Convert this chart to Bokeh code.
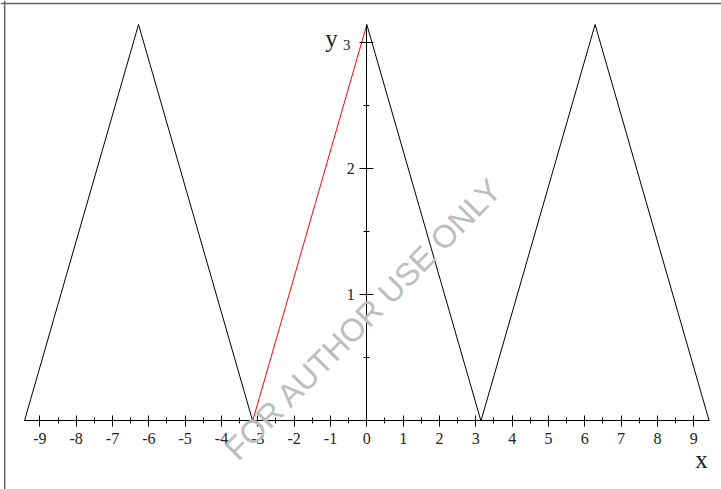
import math
from bokeh.plotting import figure
from bokeh.models import (LinearAxis, FixedTicker, Label, Span, Range1d)
from bokeh.embed import file_html
from bokeh.resources import INLINE

PI = math.pi

# Triangle wave y = pi - |x| (period 2*pi), drawn in black outside [-pi, 0]
left_x = [-3 * PI, -2 * PI, -PI]
left_y = [0.0, PI, 0.0]
right_x = [0.0, PI, 2 * PI, 3 * PI]
right_y = [PI, 0.0, PI, 0.0]

# Highlighted segment on [-pi, 0]
seg_x = [-PI, 0.0]
seg_y = [0.0, PI]

# Tick positions
x_major = list(range(-9, 10))
x_minor = [k + 0.5 for k in range(-9, 9)]
y_major = [1, 2, 3]
y_minor = [0.5, 1.5, 2.5]

W, H = 721, 489
p = figure(width=W, height=H, output_backend="svg", toolbar_location=None,
           x_range=Range1d(-10.083, 9.763), y_range=Range1d(-0.543, 3.332),
           x_axis_type=None, y_axis_type=None,
           min_border=0, min_border_left=0, min_border_right=0,
           min_border_top=0, min_border_bottom=0)
p.outline_line_color = None
p.xgrid.visible = False
p.ygrid.visible = False
p.background_fill_color = "white"
p.border_fill_color = "white"

serif = "Liberation Serif"

# Plain hyphen-minus labels; the top y label is set smaller below
x_labels = {t: str(t) for t in x_major}
y_labels = {t: str(t) for t in y_major}
top_tick = y_major[-1]
y_labels[top_tick] = ""

xaxis = LinearAxis(fixed_location=0,
                   ticker=FixedTicker(ticks=x_major, minor_ticks=x_minor),
                   bounds=(-3 * PI, 3 * PI),
                   axis_line_color="black", axis_line_width=1,
                   major_tick_in=5, major_tick_out=6,
                   minor_tick_in=3, minor_tick_out=3,
                   major_tick_line_color="black", minor_tick_line_color="black",
                   major_label_overrides=x_labels,
                   major_label_text_font=serif, major_label_text_font_size="16px",
                   major_label_text_color="#222222", major_label_standoff=6)
p.add_layout(xaxis, "below")

yaxis = LinearAxis(fixed_location=0,
                   ticker=FixedTicker(ticks=y_major, minor_ticks=y_minor),
                   bounds=(0, PI),
                   axis_line_color="black", axis_line_width=1,
                   major_tick_in=7, major_tick_out=7,
                   minor_tick_in=3, minor_tick_out=3,
                   major_tick_line_color="black", minor_tick_line_color="black",
                   major_label_overrides=y_labels,
                   major_label_text_font=serif, major_label_text_font_size="16px",
                   major_label_text_color="#222222", major_label_standoff=5,
                   major_label_orientation="horizontal")
p.add_layout(yaxis, "left")

p.add_layout(Label(x=0, y=top_tick, text=str(top_tick), text_font=serif,
                   text_font_size="15px", text_color="#222222",
                   x_offset=-20, y_offset=-3,
                   text_align="center", text_baseline="middle"))

p.line(left_x, left_y, line_color="black", line_width=1)
p.line(right_x, right_y, line_color="black", line_width=1)
p.line(seg_x, seg_y, line_color="red", line_width=1)

# Axis names
p.add_layout(Label(x=9.21, y=-0.305, text="x", text_font=serif,
                   text_font_size="25px", text_color="#222222",
                   text_align="center", text_baseline="middle"))
p.add_layout(Label(x=-0.97, y=3.03, text="y", text_font=serif,
                   text_font_size="25px", text_color="#222222",
                   text_align="center", text_baseline="middle"))

# Watermark
p.add_layout(Label(x=-0.09, y=0.81, text="FOR AUTHOR USE ONLY",
                   text_font="Liberation Sans", text_font_size="32px",
                   text_color="#bdbdbd", angle=45.5, angle_units="deg",
                   text_align="center", text_baseline="middle"))

# Frame edges (top and left)
p.add_layout(Span(location=-9.968, dimension="height", line_color="#666666", line_width=1.5))
p.add_layout(Span(location=3.308, dimension="width", line_color="#666666", line_width=1.5))

open("out.html", "w").write(file_html(p, INLINE))
